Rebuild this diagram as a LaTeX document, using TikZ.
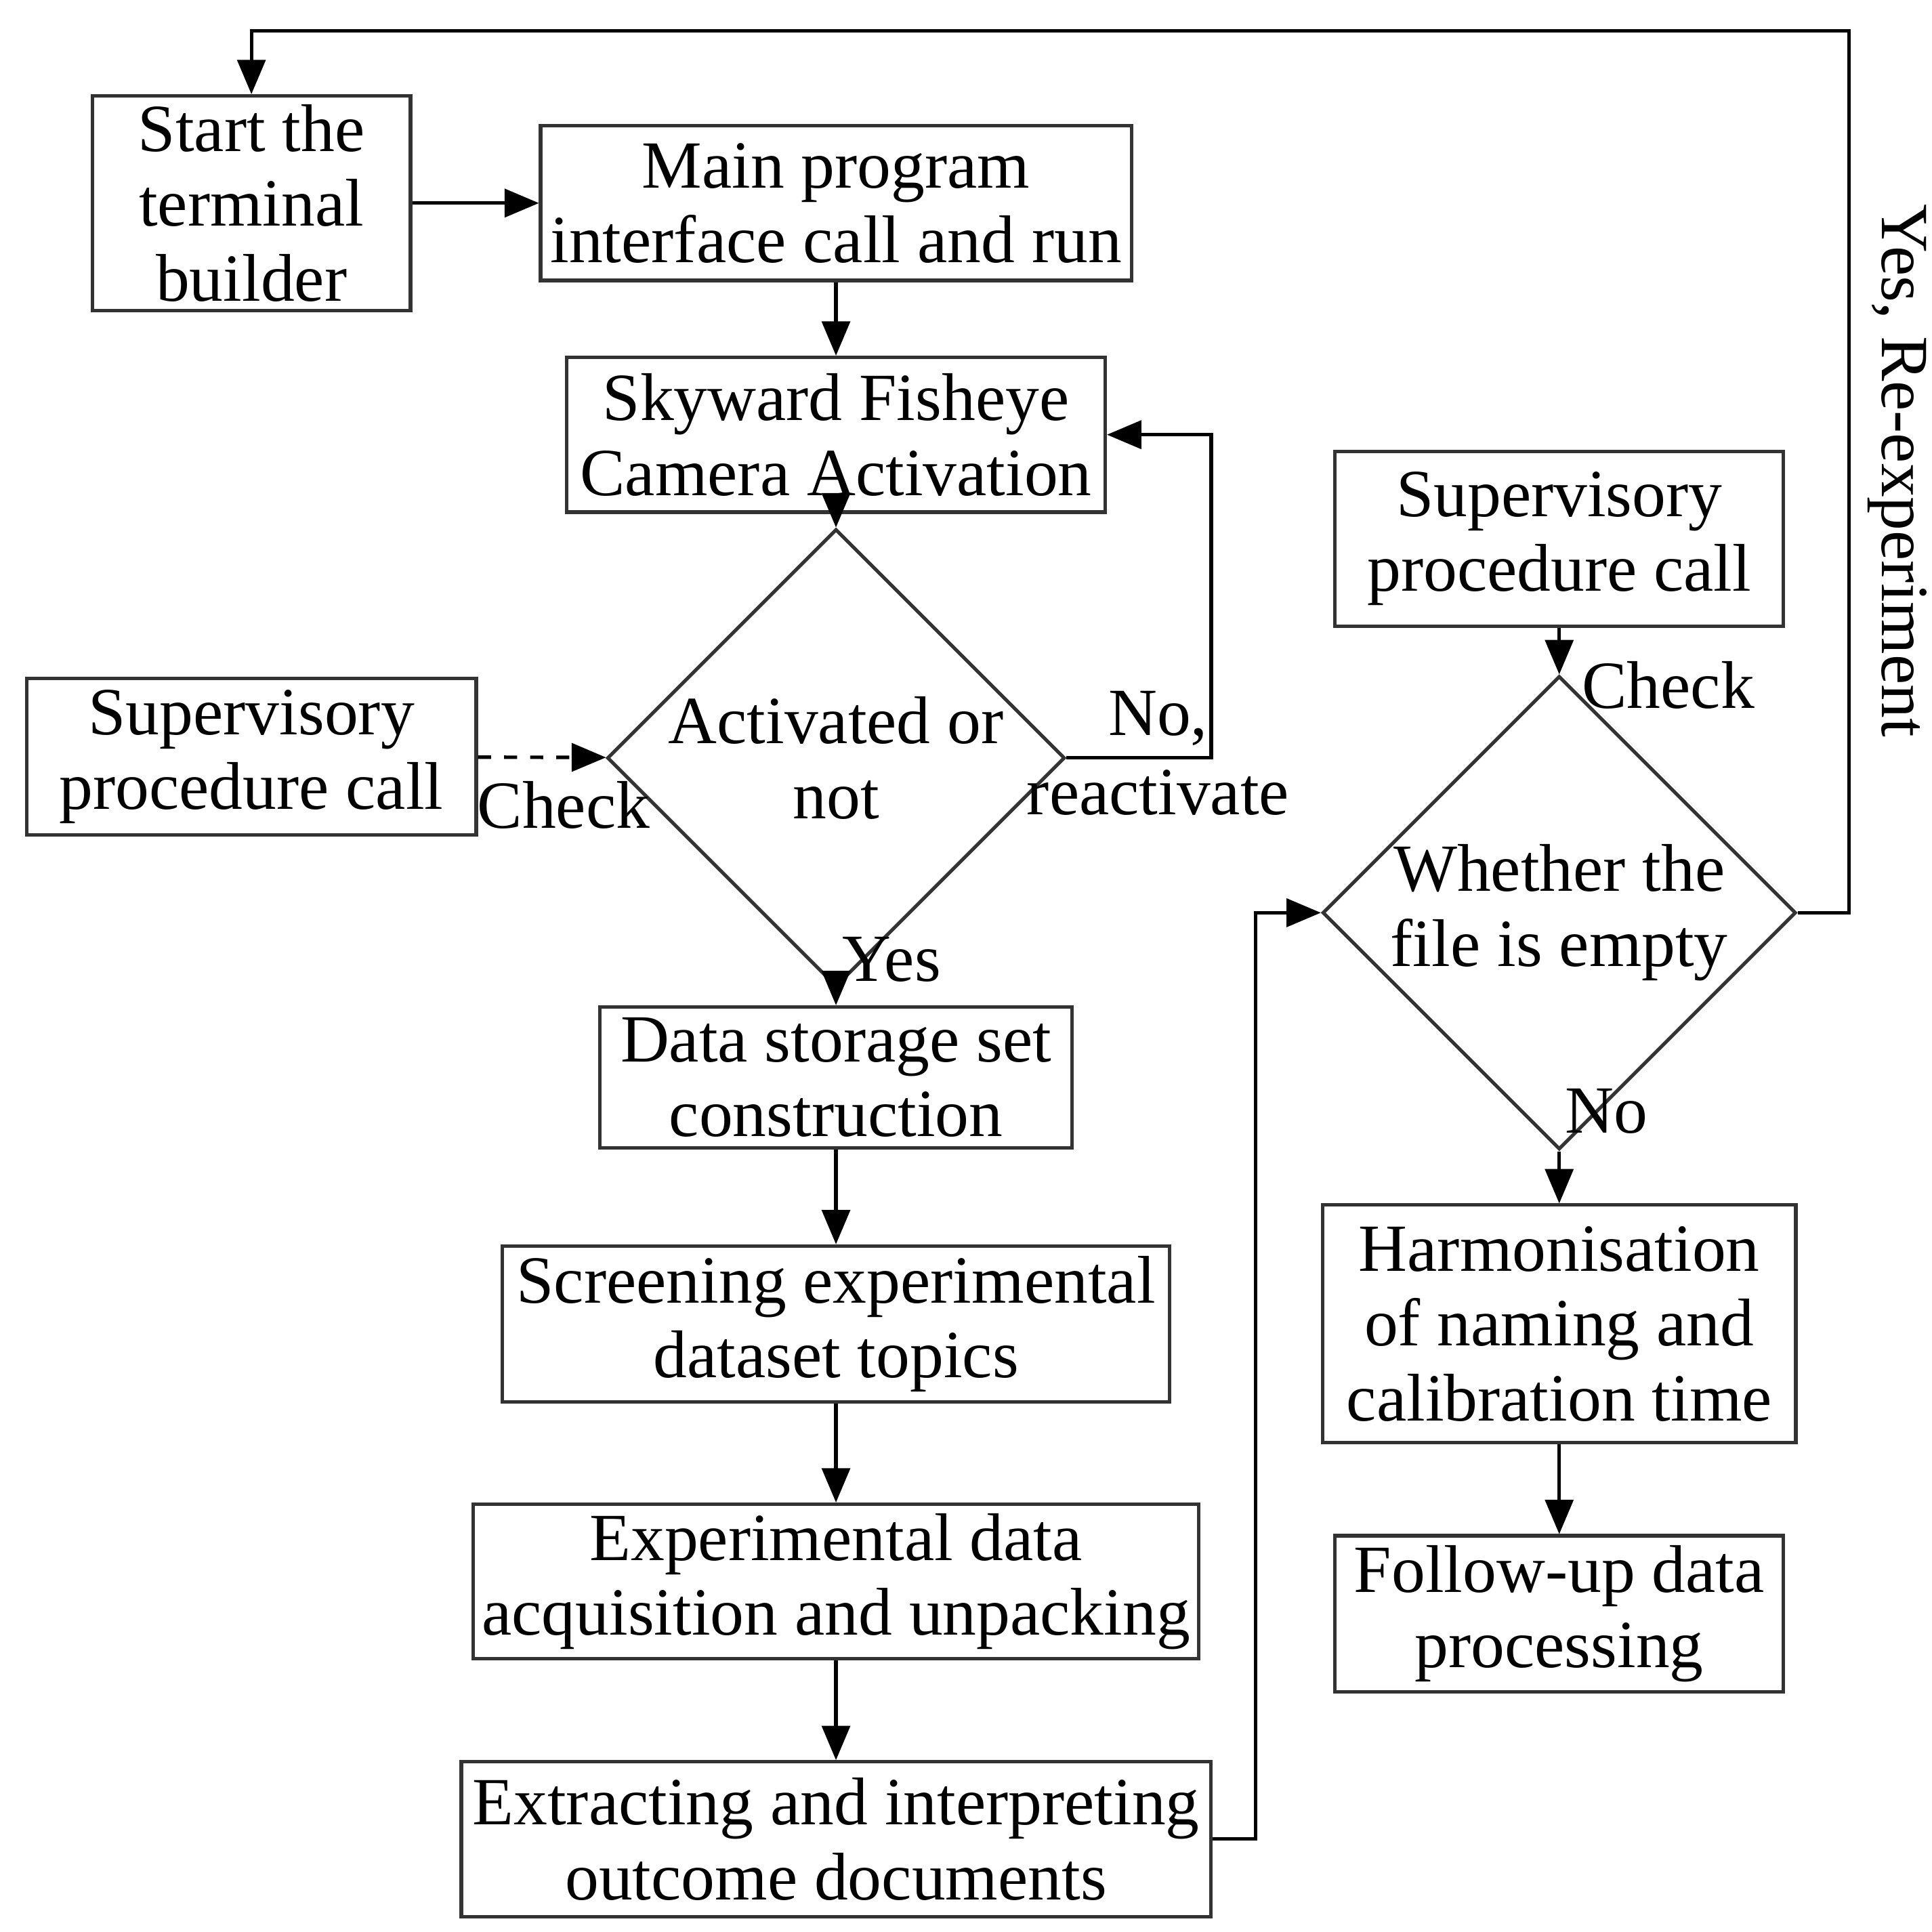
\documentclass[tikz,border=0pt]{standalone}
\usepackage{fontspec}
\setmainfont{Liberation Serif}
\usetikzlibrary{arrows,shapes.geometric,positioning}
\tikzset{
    proc/.style={
           rectangle,
           draw=black!80,
           inner sep=2pt,
           align=center,
           font=\fontsize{15.5}{17.2}\selectfont,
           },
    test/.style={
           diamond,
           draw=black!80,
           inner sep=0pt,
           align=center,
           minimum width=3.63cm,
           minimum height=2.73cm,
           font=\fontsize{15.5}{17.2}\selectfont,
           },
    lbl/.style={font=\fontsize{15.5}{17.2}\selectfont},
}

\begin{document}
\begin{tikzpicture}[->,>=triangle 45,thick]
\useasboundingbox (0,0) rectangle (15.6,-15.6);
\node[proc,minimum width=2.57cm,minimum height=1.64cm](start) at (2.03,-1.64){Start the\\terminal\\builder};
\node[proc,minimum width=4.77cm,minimum height=1.25cm](mainrun) at (6.75,-1.64){Main program\\interface call and run};
\node[proc,minimum width=4.35cm,minimum height=1.25cm](camera) at (6.75,-3.51){Skyward Fisheye\\Camera Activation};
\node[test](active) at (6.75,-6.12){Activated or\\not};
\node[proc,minimum width=3.63cm,minimum height=1.26cm](supa) at (2.03,-6.11){Supervisory\\procedure call};
\node[proc,minimum width=3.81cm,minimum height=1.14cm](storage) at (6.75,-8.70){Data storage set\\construction};
\node[proc,minimum width=5.39cm,minimum height=1.26cm](screen) at (6.75,-10.69){Screening experimental\\dataset topics};
\node[proc,minimum width=5.80cm,minimum height=1.25cm](acquire) at (6.75,-12.77){Experimental data\\acquisition and unpacking};
\node[proc,minimum width=6.05cm,minimum height=1.25cm](extract) at (6.75,-14.85){Extracting and interpreting\\outcome documents};
\node[proc,minimum width=3.62cm,minimum height=1.41cm](supb) at (12.59,-4.35){Supervisory\\procedure call};
\node[test,minimum width=3.64cm,minimum height=2.72cm](empty) at (12.59,-7.37){Whether the\\file is empty};
\node[proc,minimum width=3.82cm,minimum height=1.92cm](harmon) at (12.59,-10.69){Harmonisation\\of naming and\\calibration time};
\node[proc,minimum width=3.62cm,minimum height=1.26cm](follow) at (12.59,-13.03){Follow-up data\\processing};

\coordinate (loopa) at (14.93,-7.37);
\coordinate (loopb) at (14.93,-0.25);
\coordinate (loopc) at (2.03,-0.25);
\coordinate (reacta) at (9.78,-6.12);
\coordinate (reactb) at (9.78,-3.51);
\coordinate (linka) at (10.14,-14.85);
\coordinate (linkb) at (10.14,-7.37);

\draw (start) -- (mainrun);
\draw (mainrun) -- (camera);
\draw (camera) -- (active);
\draw (active) -- (storage);
\draw (storage) -- (screen);
\draw (screen) -- (acquire);
\draw (acquire) -- (extract);
\draw (empty) -- (harmon);
\draw (harmon) -- (follow);
\draw[dashed] (supa) -- (active);
\draw[dashed] (supb) -- (empty);
\draw (active.east) -- (reacta) -- (reactb) -- (camera.east);
\draw (extract.east) -- (linka) -- (linkb) -- (empty.west);
\draw (empty.east) -- (loopa) -- (loopb) -- (loopc) -- (start.north);

\node[lbl] at (4.55,-6.50){Check};
\node[lbl] at (13.47,-5.53){Check};
\node[lbl] at (7.20,-7.75){Yes};
\node[lbl] at (12.97,-8.97){No};
\node[lbl] at (9.35,-5.80){No,};
\node[lbl] at (9.35,-6.40){reactivate};
\node[lbl,rotate=-90] at (15.32,-3.80){Yes, Re-experiment};
\end{tikzpicture}
\end{document}
